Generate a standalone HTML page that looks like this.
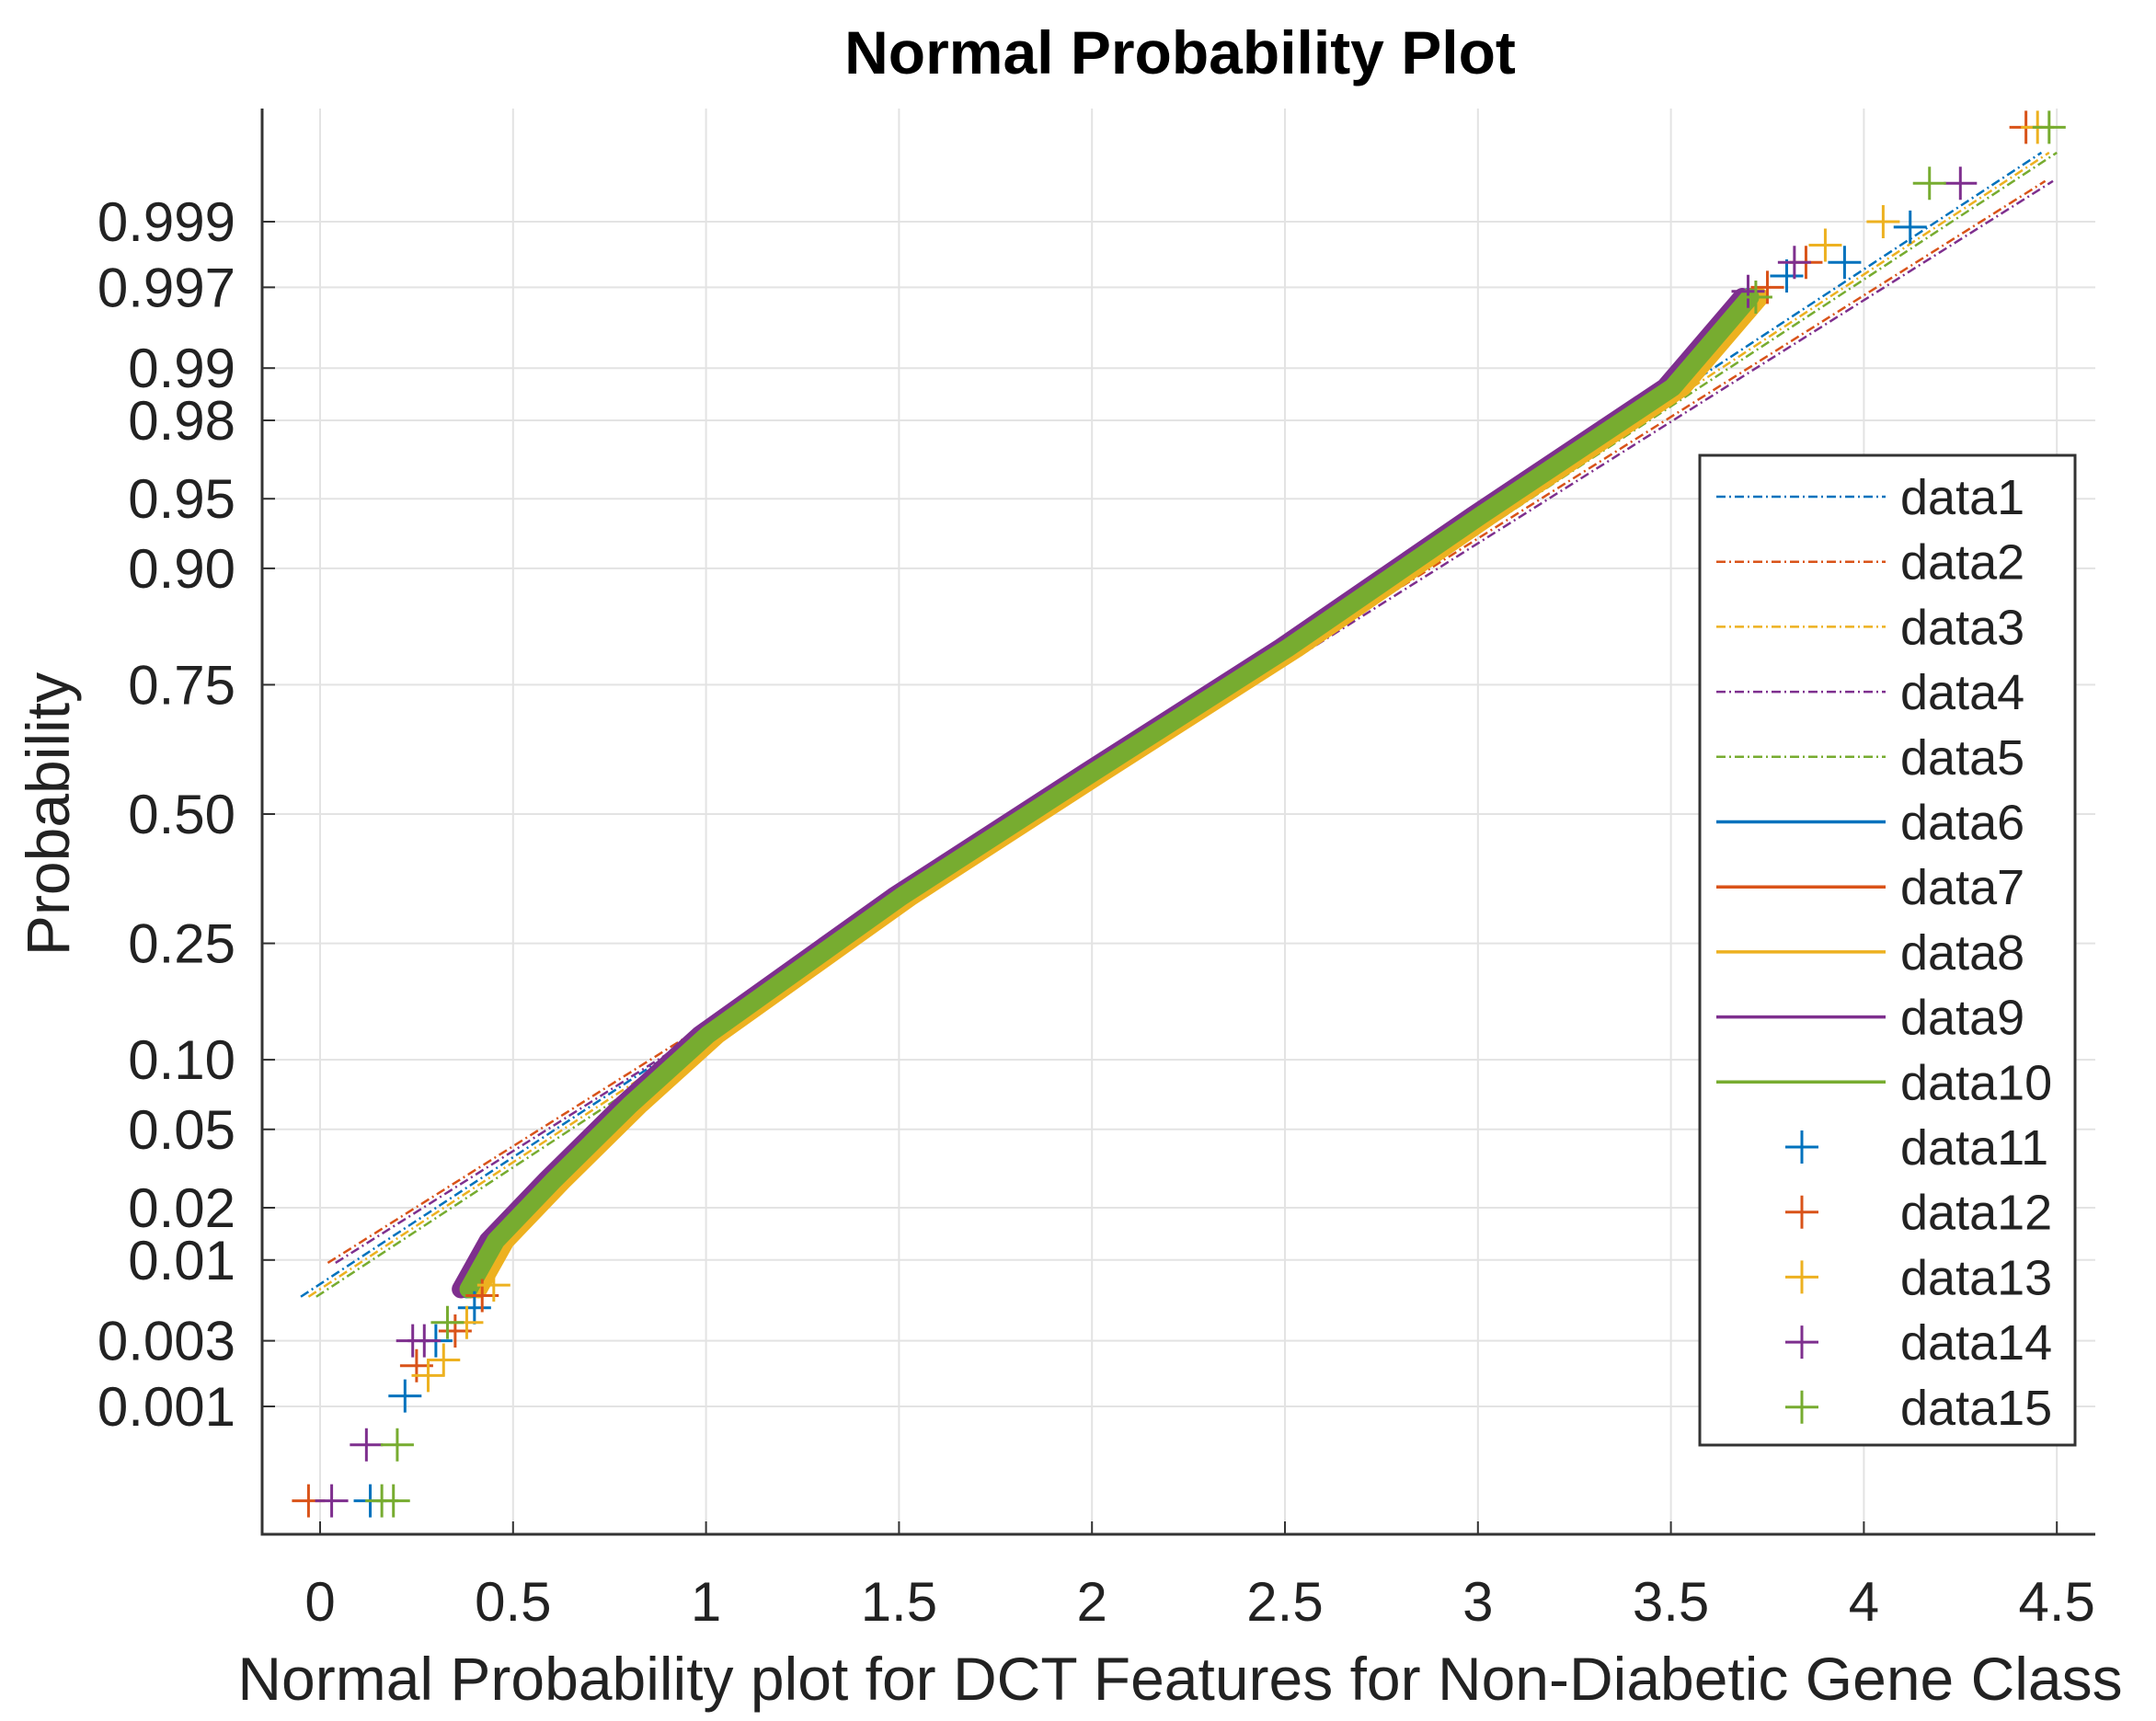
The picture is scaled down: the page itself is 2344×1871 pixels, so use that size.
<!DOCTYPE html>
<html><head><meta charset="utf-8"><style>
html,body{margin:0;padding:0;background:#fff;}
svg{display:block;font-family:"Liberation Sans",Arial,sans-serif;}
</style></head><body>
<svg id="chart" width="2344" height="1871" viewBox="0 0 2344 1871"></svg>
<script>
const xTicks=[0,0.5,1,1.5,2,2.5,3,3.5,4,4.5];
const xTickLabels=["0","0.5","1","1.5","2","2.5","3","3.5","4","4.5"];
const yTicks=[0.001,0.003,0.01,0.02,0.05,0.10,0.25,0.50,0.75,0.90,0.95,0.98,0.99,0.997,0.999];
const yTickLabels=["0.001","0.003","0.01","0.02","0.05","0.10","0.25","0.50","0.75","0.90","0.95","0.98","0.99","0.997","0.999"];
const seriesNames=["data1","data2","data3","data4","data5","data6","data7","data8","data9","data10","data11","data12","data13","data14","data15"];
const colors=["#0072BD","#D95319","#EDB120","#7E2F8E","#77AC30"];
// reference fit lines (data1-5): [x0,p0,x1,p1]
const fitLineA=[-0.03,0.0059,4.48,0.99972];
const fitLineB=[0.03,0.0096,4.48,0.99952];
// empirical curve (data6-10)
const curveX=[0.38,0.45,0.6,0.8,1.0,1.5,2.0,2.5,3.0,3.5,3.7];
const curveP=[0.0066,0.013,0.028,0.065,0.125,0.333,0.587,0.806,0.94,0.987,0.9965];
const curveShift=[0.0,0.01,0.03,-0.015,0.005];
// tail markers (data11-15)
const markX=[[0.13,0.22,0.3,0.4,4.12,3.95,3.8],[-0.03,0.25,0.35,0.42,3.85,4.42,3.75],[0.28,0.32,0.38,0.45,4.05,4.45,3.9],[0.03,0.12,0.24,0.27,3.7,4.25,3.82],[0.16,0.19,0.2,0.33,4.17,4.48,3.72]];
const markP=[[0.00017,0.0012,0.003,0.005,0.9989,0.998,0.9975],[0.00017,0.002,0.0035,0.006,0.998,0.99983,0.997],[0.0017,0.0022,0.004,0.007,0.999,0.99983,0.9985],[0.00017,0.0005,0.003,0.003,0.9968,0.9995,0.998],[0.00017,0.00017,0.0005,0.004,0.9995,0.99983,0.9965]];

function invNorm(p){
 const a=[-39.69683028665376,220.9460984245205,-275.9285104469687,138.3577518672690,-30.66479806614716,2.506628277459239];
 const b=[-54.47609879822406,161.5858368580409,-155.6989798598866,66.80131188771972,-13.28068155288572];
 const c=[-0.007784894002430293,-0.3223964580411365,-2.400758277161838,-2.549732539343734,4.374664141464968,2.938163982698783];
 const d=[0.007784695709041462,0.3224671290700398,2.445134137142996,3.754408661907416];
 let q,r;
 if(p<0.02425){q=Math.sqrt(-2*Math.log(p));return (((((c[0]*q+c[1])*q+c[2])*q+c[3])*q+c[4])*q+c[5])/((((d[0]*q+d[1])*q+d[2])*q+d[3])*q+1);}
 if(p>1-0.02425){q=Math.sqrt(-2*Math.log(1-p));return -(((((c[0]*q+c[1])*q+c[2])*q+c[3])*q+c[4])*q+c[5])/((((d[0]*q+d[1])*q+d[2])*q+d[3])*q+1);}
 q=p-0.5;r=q*q;return (((((a[0]*r+a[1])*r+a[2])*r+a[3])*r+a[4])*r+a[5])*q/(((((b[0]*r+b[1])*r+b[2])*r+b[3])*r+b[4])*r+1);
}
const X=v=>348+v*419.6;
const Y=p=>885-208.4*invNorm(p);
const L=285,R=2278,T=118,B=1668;
const svg=document.getElementById('chart');
const NS="http://www.w3.org/2000/svg";
function mk(tag,attrs,parent){const e=document.createElementNS(NS,tag);for(const k in attrs)e.setAttribute(k,attrs[k]);(parent||svg).appendChild(e);return e;}

const grid=mk('g',{});


xTicks.forEach(v=>{const l=mk('line',{x1:X(v),x2:X(v),y1:T,y2:B,stroke:'#e3e3e3','stroke-width':2},grid);

});
yTicks.forEach(p=>{const l=mk('line',{x1:L,x2:R,y1:Y(p),y2:Y(p),stroke:'#e3e3e3','stroke-width':2},grid);

});

const ax=mk('path',{d:`M${L},${T}V${B}H${R}`,stroke:'#333',fill:'none','stroke-width':3});


xTicks.forEach((v,i)=>{
 mk('line',{x1:X(v),x2:X(v),y1:B,y2:B-14,stroke:'#333','stroke-width':2});
 const t=mk('text',{x:X(v),y:1762,'font-size':60,'text-anchor':'middle',fill:'#222'});t.textContent=xTickLabels[i];
 
 
});
yTicks.forEach((p,i)=>{
 mk('line',{x1:L,x2:L+14,y1:Y(p),y2:Y(p),stroke:'#333','stroke-width':2});
 const t=mk('text',{x:256,y:Y(p)+21,'font-size':60,'text-anchor':'end',fill:'#222'});t.textContent=yTickLabels[i];
 
 
});

for(let s=0;s<5;s++){
 const f=(s%2===0)?fitLineA:fitLineB;
 const off=(s-2)*0.01;
 const l=mk('line',{x1:X(f[0]+off),y1:Y(f[1]),x2:X(f[2]+off),y2:Y(f[3]),stroke:colors[s],'stroke-width':2.5,'stroke-dasharray':'10 4 2 4'});
 
 
}
for(let s=0;s<5;s++){
 const pts=curveX.map((x,i)=>X(x+curveShift[s])+','+Y(curveP[i])).join(' ');
 const pl=mk('polyline',{points:pts,fill:'none',stroke:colors[s],'stroke-width':20,'stroke-linejoin':'round','stroke-linecap':'round'});
 
 
}
for(let s=0;s<5;s++){
 const g=mk('g',{stroke:colors[s],'stroke-width':3});
 
 
 markX[s].forEach((x,i)=>{const cx=X(x),cy=Y(markP[s][i]);mk('path',{d:`M${cx-18},${cy}H${cx+18}M${cx},${cy-18}V${cy+18}`},g);});
}

const lg=mk('g',{});


mk('rect',{x:1848,y:495,width:408,height:1076,fill:'#fff',stroke:'#333','stroke-width':3},lg);
seriesNames.forEach((n,i)=>{
 const y=540+i*70.7;const c=colors[i%5];
 if(i<10){mk('line',{x1:1866,x2:2050,y1:y,y2:y,stroke:c,'stroke-width':i<5?2.5:3.5,'stroke-dasharray':i<5?'10 4 2 4':'none'},lg);}
 else{mk('path',{d:`M${1941},${y}H${1977}M${1959},${y-18}V${y+18}`,stroke:c,'stroke-width':3},lg);}
 const t=mk('text',{x:2066,y:y+19,'font-size':54,fill:'#222'},lg);t.textContent=n;
 
 
});

const ti=mk('text',{x:1283,y:80,'font-size':66,'font-weight':'bold','text-anchor':'middle',fill:'#000'});ti.textContent='Normal Probability Plot';


const xl=mk('text',{x:1283,y:1848,'font-size':66,'text-anchor':'middle',fill:'#222'});xl.textContent='Normal Probability plot for DCT Features for Non-Diabetic Gene Class';


const yl=mk('text',{x:0,y:0,'font-size':66,'text-anchor':'middle',fill:'#222',transform:'translate(75,885) rotate(-90)'});yl.textContent='Probability';


</script>
</body></html>
